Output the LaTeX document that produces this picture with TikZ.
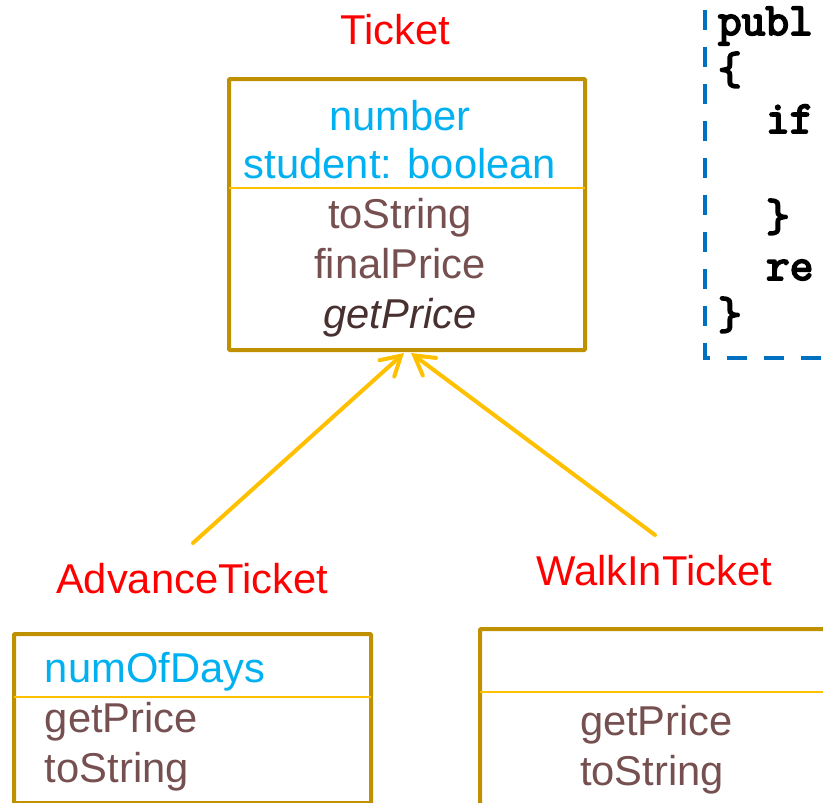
\documentclass[tikz,border=0pt]{standalone}
\usepackage{fontspec}
\setmainfont{Liberation Sans}
\newfontfamily\codefont[FakeBold=4]{Latin Modern Mono}
\usetikzlibrary{arrows.meta,calc}
\definecolor{gold}{RGB}{191,144,0}
\definecolor{amber}{RGB}{255,192,0}
\definecolor{attr}{RGB}{0,176,240}
\definecolor{meth}{RGB}{118,80,80}
\definecolor{abst}{RGB}{72,48,48}
\definecolor{codeblue}{RGB}{0,112,192}
\begin{document}
\begin{tikzpicture}[x=1pt,y=-1pt,
  every node/.style={font=\fontsize{41.7}{50}\selectfont, inner sep=0pt, outer sep=0pt},
  classbox/.style={draw=gold, line width=4pt, rounded corners=1pt},
  divider/.style={draw=amber, line width=1.3pt},
  titletext/.style={text=red, anchor=base},
  attrtext/.style={text=attr, anchor=base},
  methtext/.style={text=meth, anchor=base},
  leftattr/.style={text=attr, anchor=base west},
  leftmeth/.style={text=meth, anchor=base west},
  codetext/.style={font=\codefont\fontsize{46}{50}\selectfont, anchor=base west},
  inherit/.style={draw=amber, line width=4pt, line cap=round,
    -{Straight Barb[length=19pt,width=22pt,line cap=round]}}
]
\useasboundingbox (0,0) rectangle (823,803);
\clip (0,0) rectangle (823,803);

% Ticket
\node[titletext] (ttitle) at (395,45) {Ticket};
\node[classbox, minimum width=356pt, minimum height=271pt] (ticket) at (407,214.5) {};
\coordinate (td1) at (229,188);
\coordinate (td2) at (585,188);
\draw[divider] (td1) -- (td2);
\node[attrtext] (tnum) at (400,130) {number};
\node[attrtext] (tstu) at (400,178) {student: boolean};
\node[methtext] (tstr) at (400,228) {toString};
\node[methtext] (tfin) at (400,278) {finalPrice};
\node[text=abst, anchor=base, font=\fontsize{41.7}{50}\selectfont\itshape] (tget) at (400,328) {getPrice};

% code box
\draw[codeblue, line width=4pt, dash pattern=on 20pt off 17pt] (705,10) -- (705,358) -- (830,358);
\node[codetext] (c1) at (718,35) {publ};
\node[codetext] (c2) at (718,84) {\{};
\node[codetext] (c3) at (766,133) {if};
\node[codetext] (c5) at (766,231) {\}};
\node[codetext] (c6) at (766,280) {re};
\node[codetext] (c7) at (718,329) {\}};

% AdvanceTicket
\node[titletext] (atitle) at (192,593) {AdvanceTicket};
\node[classbox, minimum width=357pt, minimum height=169pt] (adv) at (192.5,718.5) {};
\coordinate (ad1) at (14,697);
\coordinate (ad2) at (371,697);
\draw[divider] (ad1) -- (ad2);
\node[leftattr] (anum) at (45,682) {numOfDays};
\node[leftmeth] (aget) at (45,732) {getPrice};
\node[leftmeth] (astr) at (45,782) {toString};

% WalkInTicket
\node[titletext] (wtitle) at (654,585) {WalkInTicket};
\node[classbox, minimum width=360pt, minimum height=191pt] (walk) at (660,724.5) {};
\coordinate (wd1) at (480,692);
\coordinate (wd2) at (840,692);
\draw[divider] (wd1) -- (wd2);
\node[leftmeth] (wget) at (580,735) {getPrice};
\node[leftmeth] (wstr) at (580,785) {toString};

% inheritance arrows
\coordinate (afrom) at (193,543);
\coordinate (wfrom) at (655,535);
\draw[inherit] (afrom) -- ($(ticket.south)+(-3,3)$);
\draw[inherit] (wfrom) -- ($(ticket.south)+(4,3)$);
\end{tikzpicture}
\end{document}
